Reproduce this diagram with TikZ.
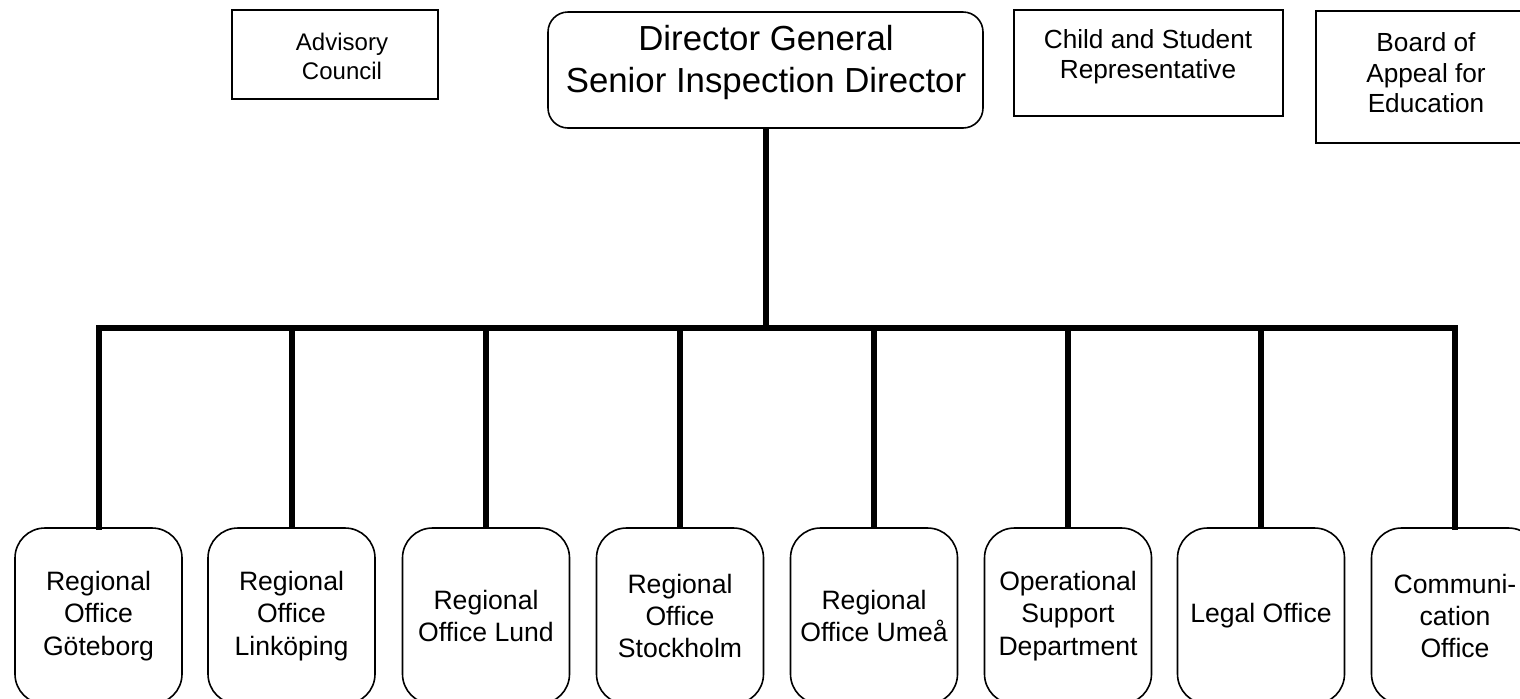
\documentclass[tikz,border=0pt]{standalone}
\usepackage{fontspec}
\setmainfont{Liberation Sans}
\begin{document}
\begin{tikzpicture}[x=0.5pt,y=-0.5pt,
  boxline/.style={draw, line width=0.8pt, inner sep=0pt},
  sidetext/.style={align=center, inner sep=0pt, font=\fontsize{13.1}{15.2}\selectfont},
  unitbox/.style={draw, line width=0.8pt, rounded corners=15pt, align=center, font=\fontsize{13.3}{16.2}\selectfont, inner sep=0pt, minimum width=83.5pt, minimum height=88pt},
  bus/.style={line width=3pt}]
\useasboundingbox (0,0) rectangle (1520,698);
% top boxes
\node[boxline, minimum width=103pt, minimum height=44.5pt] (adv) at (335,54.5) {};
\node[sidetext, font=\fontsize{12}{14.5}\selectfont] (advt) at (342,56) {Advisory\\Council};
\node[boxline, rounded corners=10pt, minimum width=217.5pt, minimum height=58pt] (dg) at (765.5,70) {};
\node[align=center, inner sep=0pt, font=\fontsize{17.4}{21}\selectfont] (dgt) at (766,62) {Director General\\Senior Inspection Director};
\node[boxline, minimum width=134.5pt, minimum height=53pt] (csr) at (1148.5,63) {};
\node[sidetext] (csrt) at (1148,57) {Child and Student\\Representative};
\node[boxline, minimum width=110pt, minimum height=66pt, anchor=north west] (boa) at (1315,10) {};
\node[sidetext] (boat) at (1426,73) {Board of\\Appeal for\\Education};
% bottom boxes
\node[unitbox] (u1) at (98.5,616) {Regional\\Office\\Göteborg};
\node[unitbox] (u2) at (291.5,616) {Regional\\Office\\Linköping};
\node[unitbox] (u3) at (486,616) {Regional\\Office Lund};
\node[unitbox] (u4) at (680,616) {Regional\\Office\\Stockholm};
\node[unitbox] (u5) at (874,616) {Regional\\Office Umeå};
\node[unitbox] (u6) at (1068,616) {Operational\\Support\\Department};
\node[unitbox] (u7) at (1261,616) {Legal Office};
\node[unitbox] (u8) at (1455,616) {Communi-\\cation\\Office};
% connectors
\coordinate (busy) at (0,328);
\draw[bus] (dg.south) -- (dg.south |- busy);
\draw[bus, line cap=rect] (u1.north) -- (u1.north |- busy) -- (u8.north |- busy) -- (u8.north);
\foreach \u in {u2,u3,u4,u5,u6,u7}{
  \draw[bus] (\u.north) -- (\u.north |- busy);
}
\end{tikzpicture}
\end{document}
